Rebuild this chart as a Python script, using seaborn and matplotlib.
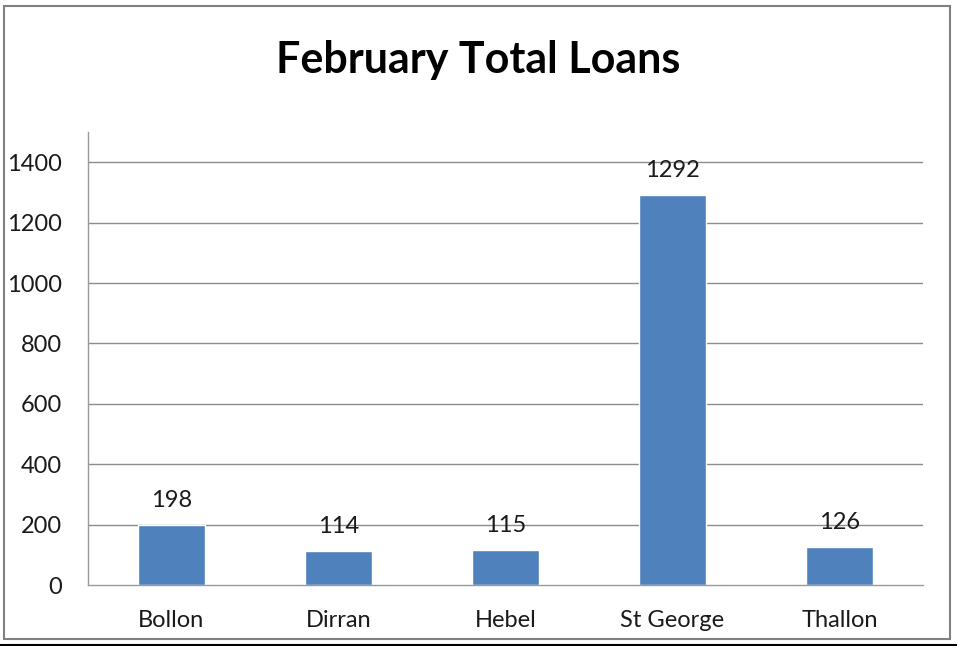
import matplotlib
matplotlib.use('Agg')
import matplotlib.pyplot as plt
import matplotlib.patches as mpatches
import matplotlib.lines as mlines
import seaborn as sns

# Data
branches = ['Bollon', 'Dirran', 'Hebel', 'St George', 'Thallon']
loans = [198, 114, 115, 1292, 126]
y_ticks = [0, 200, 400, 600, 800, 1000, 1200, 1400]

sns.set_style('white')
plt.rcParams['font.family'] = ['Lato', 'DejaVu Sans']

fig = plt.figure(figsize=(9.57, 6.46), dpi=100)
ax = fig.add_axes([88/957, 1 - 585/646, (923 - 88)/957, (585 - 132)/646])

sns.barplot(x=branches, y=loans, color='#4F81BD', saturation=1, width=0.4, ax=ax)

ax.set_xlim(-0.5, len(branches) - 0.5)
ax.set_ylim(0, 1500)
ax.set_yticks(y_ticks)
ax.set_yticklabels([str(t) for t in y_ticks], fontsize=17)
ax.tick_params(axis='x', which='major', length=0, labelsize=17, pad=18)
ax.set_xticks([i - 0.5 for i in range(len(branches) + 1)], minor=True)
ax.tick_params(axis='x', which='minor', length=8, color='#9a9a9a', width=1)
ax.tick_params(axis='y', length=8, color='#9a9a9a', width=1, pad=11)
for t in ax.get_xticklabels() + ax.get_yticklabels():
    t.set_color('#1a1a1a')

for t in y_ticks[1:]:
    ax.axhline(t, color='#8c8c8c', lw=1, zorder=0)

for side in ['top', 'right']:
    ax.spines[side].set_visible(False)
for side in ['left', 'bottom']:
    ax.spines[side].set_color('#9a9a9a')
    ax.spines[side].set_linewidth(1)

ax.bar_label(ax.containers[0], fmt='%d', padding=10, fontsize=17, color='#1a1a1a')
ax.set_xlabel('')
ax.set_ylabel('')

fig.text(0.5, 1 - 60/646, 'February Total Loans', ha='center', va='center',
         fontsize=31, fontweight='bold', color='black')

# outer frame like a spreadsheet chart area
fig.patches.append(mpatches.Rectangle((4/957, 1 - 639/646), (950 - 4)/957, (639 - 6)/646,
                                      transform=fig.transFigure, fill=False,
                                      edgecolor='#808080', lw=1.5))
fig.lines.append(mlines.Line2D([0, 1], [1 - 644.5/646] * 2, transform=fig.transFigure,
                               color='black', lw=1.5))

fig.savefig('out.png', dpi=100)
